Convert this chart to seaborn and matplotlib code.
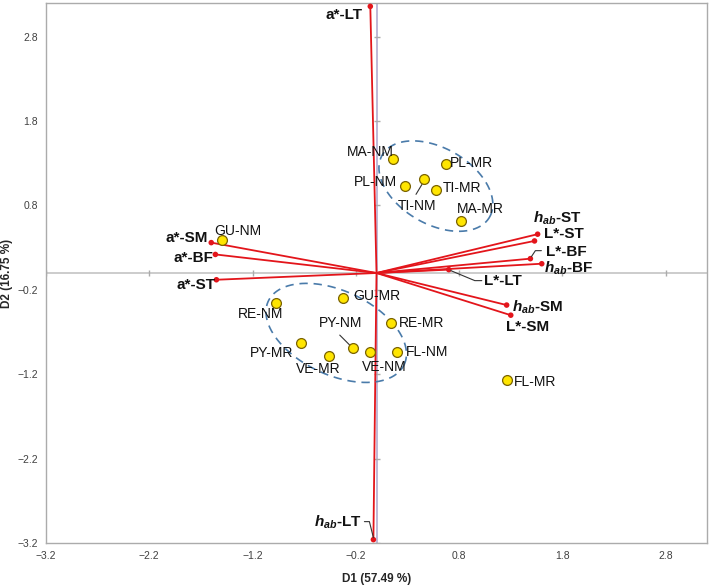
import matplotlib
matplotlib.use("Agg")
import matplotlib.pyplot as plt
import numpy as np
import pandas as pd
import seaborn as sns
from matplotlib.lines import Line2D
from matplotlib.transforms import IdentityTransform

# observations (factor scores)
obs_names = ["MA-NM", "PL-MR", "PL-NM", "TI-NM", "TI-MR", "MA-MR", "GU-NM", "GU-MR",
             "RE-NM", "PY-NM", "RE-MR", "PY-MR", "VE-MR", "VE-NM", "FL-NM", "FL-MR"]
obs_d1 = [0.16, 0.67, 0.28, 0.46, 0.58, 0.82, -1.50, -0.32,
          -0.97, -0.23, 0.14, -0.73, -0.46, -0.06, 0.20, 1.26]
obs_d2 = [1.35, 1.29, 1.03, 1.11, 0.98, 0.62, 0.39, -0.30,
          -0.36, -0.89, -0.59, -0.83, -0.98, -0.94, -0.94, -1.27]

# variables (loadings, drawn as vectors from origin)
HAB = r"$\mathbfit{h}_{\mathbfit{ab}}$"
var_names = ["a*-LT", HAB + "-LT", "a*-SM", "a*-BF", "a*-ST", HAB + "-ST",
             "L*-ST", "L*-BF", HAB + "-BF", "L*-LT", HAB + "-SM", "L*-SM"]
var_d1 = [-0.06, -0.03, -1.60, -1.56, -1.55, 1.56, 1.53, 1.49, 1.60, 0.70, 1.26, 1.30]
var_d2 = [3.16, -3.16, 0.36, 0.22, -0.08, 0.46, 0.38, 0.17, 0.11, 0.04, -0.38, -0.50]

ticks = [-3.2, -2.2, -1.2, -0.2, 0.8, 1.8, 2.8]

# label offsets in pixels from the marker (dx, dy up)
obs_offsets = [(-23, 7), (26, 1), (-30, 4), (-7, -27), (26, 2), (19, 12), (16, 9), (33, 2),
               (-16, -11), (-12, 25), (31, 0), (-30, -10), (-11, -13), (14, -15), (30, 0), (28, -2)]
var_offsets = [(-26, -9), (-35, 17), (-25, 5), (-22, -4), (-20, -5), (20, 16),
               (29, 7), (36, 7), (27, -5), (54, -11), (31, -2), (17, -12)]

# leader lines: anchor -> pixel path relative to the anchor
obs_leaders = {"TI-NM": [(-2, -5), (-8, -15)], "PY-NM": [(-13, 13), (-2, 2)]}
var_leaders = {7: [(1, 2), (5, 8), (11, 8)],
               9: [(2, -1), (26, -11), (33, -11)],
               1: [(-9, 18), (-4, 18), (0, 2)]}

# group ellipses: data centre, semi-axes (px), angle (deg)
ell_centers = [(0.575, 1.03), (-0.39, -0.71)]
ell_axes = [(62, 38), (75, 42)]
ell_angles = [-30, -25]

sns.set_style("white")
plt.rcParams["font.family"] = ["Liberation Sans", "DejaVu Sans"]
plt.rcParams["mathtext.fontset"] = "custom"
plt.rcParams["mathtext.rm"] = "Liberation Sans"
plt.rcParams["mathtext.it"] = "Liberation Sans:italic"
plt.rcParams["mathtext.bf"] = "Liberation Sans:bold"
plt.rcParams["mathtext.bfit"] = "Liberation Sans:italic:bold"

RED = "#E3151B"
GRAY = "#ABABAB"

fig = plt.figure(figsize=(7.09, 5.87), dpi=100)
ax = fig.add_axes([46 / 709, 44 / 587, 661 / 709, 540 / 587])
ax.set_xlim(-3.2, 3.2)
ax.set_ylim(-3.2, 3.2)

ax.axhline(0, color="#C4C4C4", lw=1.2, zorder=1)
ax.axvline(0, color="#B3ABCF", lw=1.2, zorder=1)
ax.plot(ticks, np.zeros(len(ticks)), ls="none", marker="|", ms=4, color=GRAY, zorder=1)
ax.plot(np.zeros(len(ticks)), ticks, ls="none", marker="_", ms=4, color=GRAY, zorder=1)

for x, y in zip(var_d1, var_d2):
    ax.plot([0, x], [0, y], color=RED, lw=1.3, zorder=2)
sns.scatterplot(x=var_d1, y=var_d2, color=RED, s=16, edgecolor="none", zorder=3, ax=ax)

obs = pd.DataFrame({"name": obs_names, "D1": obs_d1, "D2": obs_d2})
sns.scatterplot(data=obs, x="D1", y="D2", color="#FFE500", edgecolor="#7A6200",
                linewidth=0.9, s=50, zorder=5, ax=ax)

# ellipses
t = np.linspace(0, 2 * np.pi, 200)
for (cx, cy), (a, b), ang in zip(ell_centers, ell_axes, ell_angles):
    th = np.deg2rad(ang)
    c = ax.transData.transform((cx, cy))
    ex = c[0] + a * np.cos(t) * np.cos(th) - b * np.sin(t) * np.sin(th)
    ey = c[1] + a * np.cos(t) * np.sin(th) + b * np.sin(t) * np.cos(th)
    ax.add_line(Line2D(ex, ey, transform=IdentityTransform(), color="#4A7BAA",
                       lw=1.2, ls=(0, (5, 3.5)), zorder=4))


def leader(x, y, path):
    base = ax.transData.transform((x, y))
    p = base + np.array(path, dtype=float)
    ax.add_line(Line2D(p[:, 0], p[:, 1], transform=IdentityTransform(),
                       color="#333333", lw=0.8, zorder=4))


for name, x, y, (dx, dy) in zip(obs_names, obs_d1, obs_d2, obs_offsets):
    ax.annotate(name, (x, y), xytext=(dx, dy), textcoords="offset pixels",
                ha="center", va="center", fontsize=10, color="#111111", zorder=6)
    if name in obs_leaders:
        leader(x, y, obs_leaders[name])

for i, (name, x, y, (dx, dy)) in enumerate(zip(var_names, var_d1, var_d2, var_offsets)):
    ax.annotate(name, (x, y), xytext=(dx, dy), textcoords="offset pixels",
                ha="center", va="center", fontsize=11, fontweight="bold",
                color="#111111", zorder=6)
    if i in var_leaders:
        leader(x, y, var_leaders[i])

ax.set_xticks(ticks)
ax.set_yticks(ticks)
ax.tick_params(length=0, labelsize=7.5, colors="#404040", pad=6)
for s in ax.spines.values():
    s.set_color(GRAY)
    s.set_linewidth(1.0)

ax.set_xlabel("D1 (57.49 %)", fontsize=8.5, fontweight="bold")
ax.set_ylabel("D2 (16.75 %)", fontsize=8.5, fontweight="bold")
ax.xaxis.set_label_coords(331 / 661, -30 / 540)
ax.yaxis.set_label_coords(-33 / 661, 0.5)

fig.savefig("out.png", dpi=100)
plt.close(fig)
